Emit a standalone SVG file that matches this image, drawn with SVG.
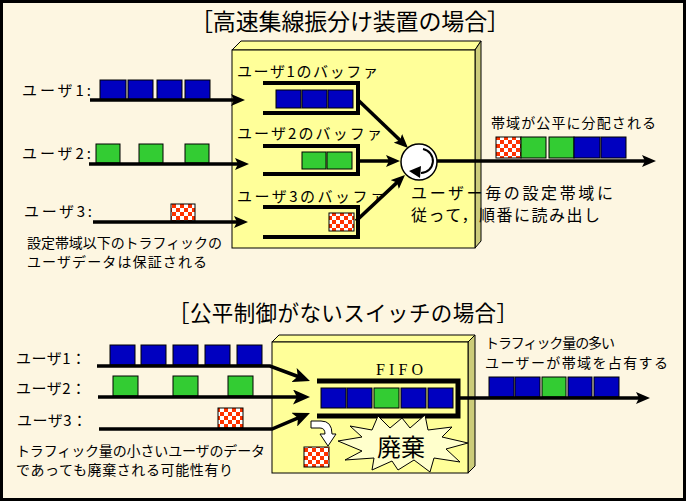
<svg xmlns="http://www.w3.org/2000/svg" width="686" height="501" viewBox="0 0 686 501">
<style>
text{font-family:"Noto Sans CJK JP","Noto Sans",sans-serif;fill:#000}
.blue{fill:#0000C0;stroke:#000;stroke-width:1}
.green{fill:#33CC33;stroke:#000;stroke-width:1}
.chk{fill:url(#checker);stroke:#000;stroke-width:1}
.line{fill:none;stroke:#000;stroke-width:3.5}
.buf{fill:none;stroke:#000;stroke-width:4}
.front{fill:#FFFF99;stroke:#000;stroke-width:1}
.side{fill:#CCCC7A;stroke:#000;stroke-width:1}
</style>
<defs>
<pattern id="checker" patternUnits="userSpaceOnUse" width="8" height="8">
<rect width="8" height="8" fill="#fff"/>
<rect width="4" height="4" fill="#FF3300"/>
<rect x="4" y="4" width="4" height="4" fill="#FF3300"/>
</pattern>
<marker id="ah" markerUnits="userSpaceOnUse" markerWidth="14" markerHeight="12" viewBox="0 0 14 12" refX="8" refY="6" orient="auto"><path d="M0,0 L14,6 L0,12 L3,6 z" fill="#000"/></marker>
<marker id="ahL" markerUnits="userSpaceOnUse" markerWidth="17" markerHeight="15" viewBox="0 0 17 15" refX="10" refY="7.5" orient="auto"><path d="M0,0 L17,7.5 L0,15 L4,7.5 z" fill="#000"/></marker>
</defs>
<rect x="1.5" y="1.5" width="683" height="498" fill="#FDF6E1" stroke="#000" stroke-width="3"/>

<!-- Top section -->
<text x="190" y="30" font-size="23" textLength="320">［高速集線振分け装置の場合］</text>

<g id="device1">
<polygon class="front" points="232,50 241,41 481,41 475,50"/>
<polygon class="side" points="475,50 481,41 481,241 475,248"/>
<rect class="front" x="232" y="50" width="243" height="198"/>
</g>

<g id="buffer1">
<text x="237" y="77" font-size="15" textLength="141">ユーザ1のバッファ</text>
<path class="buf" d="M263,83 L358,83 L358,113 L263,113"/>
<rect class="blue" x="276" y="90" width="25" height="18"/>
<rect class="blue" x="302" y="90" width="25" height="18"/>
<rect class="blue" x="328" y="90" width="25" height="18"/>
</g>
<g id="buffer2">
<text x="237" y="139" font-size="15" textLength="145">ユーザ2のバッファ</text>
<path class="buf" d="M263,146 L358,146 L358,174 L263,174"/>
<rect class="green" x="302" y="152" width="24" height="17"/>
<rect class="green" x="327" y="152" width="25" height="17"/>
</g>
<g id="buffer3">
<text x="237" y="202" font-size="15" textLength="148">ユーザ3のバッファ</text>
<path class="buf" d="M263,207 L358,207 L358,237 L263,237"/>
<rect class="chk" x="329" y="213" width="25" height="18"/>
</g>

<g id="scheduler">
<circle cx="419" cy="162" r="18" fill="#fff" stroke="#000" stroke-width="1.5"/>
<path d="M423,149 A12.1,12.1 0 0 1 421,173" fill="none" stroke="#000" stroke-width="2"/>
<polygon points="409,171 421,166 420,178" fill="#000"/>
</g>

<g id="user1-top">
<text x="22" y="96" font-size="15" textLength="69">ユーザ1:</text>
<rect class="blue" x="100" y="80" width="26" height="20"/>
<rect class="blue" x="128" y="80" width="25" height="20"/>
<rect class="blue" x="157" y="80" width="25" height="20"/>
<rect class="blue" x="185" y="80" width="25" height="20"/>
</g>
<g id="user2-top">
<text x="22" y="159" font-size="15" textLength="69">ユーザ2:</text>
<rect class="green" x="96" y="144" width="24" height="19"/>
<rect class="green" x="139" y="144" width="24" height="19"/>
<rect class="green" x="185" y="144" width="24" height="19"/>
</g>
<g id="user3-top">
<text x="24" y="217" font-size="15" textLength="68">ユーザ3:</text>
<rect class="chk" x="171" y="204" width="24" height="17"/>
</g>

<g id="output-top">
<rect class="chk" x="496" y="137" width="25" height="21"/>
<rect class="green" x="521" y="137" width="25" height="21"/>
<rect class="green" x="549" y="137" width="25" height="21"/>
<rect class="blue" x="574" y="137" width="26" height="21"/>
<rect class="blue" x="601" y="137" width="25" height="21"/>
<text x="491" y="128" font-size="14" textLength="165">帯域が公平に分配される</text>
</g>

<g id="notes-top">
<text x="27" y="248" font-size="14" textLength="195">設定帯域以下のトラフィックの</text>
<text x="27" y="267" font-size="14" textLength="180">ユーザデータは保証される</text>
<text x="411" y="199" font-size="16" textLength="202">ユーザー毎の設定帯域に</text>
<text x="411" y="221" font-size="16" textLength="189">従って，順番に読み出し</text>
</g>

<g id="connectors-top">
<path class="line" d="M90,100 L239,100" marker-end="url(#ah)"/>
<path class="line" d="M89,164 L243,164" marker-end="url(#ah)"/>
<path class="line" d="M93,222 L242,222" marker-end="url(#ah)"/>
<path class="line" d="M358,100 L403.7,143.8" marker-end="url(#ah)" stroke-width="3"/>
<path class="line" d="M358,161 L394,161" marker-end="url(#ah)" stroke-width="3"/>
<path class="line" d="M356,221 L400.6,179.1" marker-end="url(#ah)" stroke-width="3"/>
<path class="line" d="M437,161 L650,161" marker-end="url(#ah)"/>
</g>

<!-- Bottom section -->
<text x="168" y="321" font-size="21.5" textLength="350">［公平制御がないスイッチの場合］</text>

<g id="switch">
<polygon class="front" points="272,342 279,335 475,335 468,342"/>
<polygon class="side" points="468,342 475,335 475,466 468,473"/>
<rect class="front" x="272" y="342" width="196" height="131"/>
</g>

<g id="fifo">
<text x="376" y="375" font-size="16" textLength="47" style="font-family:'Liberation Serif',serif">FIFO</text>
<path d="M317,381 L458,381 L458,416 L317,416" fill="none" stroke="#000" stroke-width="5"/>
<rect class="blue" x="321" y="388" width="25" height="20"/>
<rect class="blue" x="347" y="388" width="25" height="20"/>
<rect class="green" x="374" y="388" width="25" height="20"/>
<rect class="blue" x="401" y="388" width="25" height="20"/>
<rect class="blue" x="428" y="388" width="25" height="20"/>
</g>

<g id="discard">
<path d="M311,421 L321,421 Q332,421 332,434 L336,434 L328,446 L320,434 L325,434 Q325,428 320,428 L311,428 Z" fill="#fff" stroke="#000" stroke-width="1"/>
<rect class="chk" x="304" y="447" width="25" height="20"/>
<polygon points="338,441 362,437 350,426 372,430 378,416 390,428 402,418 410,428 425,415 428,430 452,427 442,437 468,443 446,449 460,462 434,458 430,472 414,460 398,470 392,461 372,470 374,458 345,460 362,451" fill="#FFFFCC" stroke="#000" stroke-width="1"/>
<text x="377" y="456" font-size="24" textLength="48">廃棄</text>
</g>

<g id="user1-bottom">
<text x="16" y="364" font-size="15" textLength="70">ユーザ1：</text>
<rect class="blue" x="110" y="345" width="25" height="20"/>
<rect class="blue" x="141" y="345" width="25" height="20"/>
<rect class="blue" x="173" y="345" width="25" height="20"/>
<rect class="blue" x="205" y="345" width="25" height="20"/>
<rect class="blue" x="237" y="345" width="25" height="20"/>
</g>
<g id="user2-bottom">
<text x="16" y="394" font-size="15" textLength="70">ユーザ2：</text>
<rect class="green" x="113" y="376" width="25" height="20"/>
<rect class="green" x="173" y="376" width="25" height="20"/>
<rect class="green" x="228" y="376" width="25" height="20"/>
</g>
<g id="user3-bottom">
<text x="17" y="426" font-size="15" textLength="70">ユーザ3：</text>
<rect class="chk" x="218" y="408" width="25" height="20"/>
</g>

<g id="output-bottom">
<rect class="blue" x="489" y="377" width="25" height="20"/>
<rect class="blue" x="515" y="377" width="25" height="20"/>
<rect class="green" x="542" y="377" width="24" height="20"/>
<rect class="blue" x="568" y="377" width="24" height="20"/>
<rect class="blue" x="594" y="377" width="25" height="20"/>
<text x="485" y="348" font-size="14" textLength="130">トラフィック量の多い</text>
<text x="485" y="368" font-size="14" textLength="183">ユーザーが帯域を占有する</text>
</g>

<g id="notes-bottom">
<text x="16" y="456" font-size="14" textLength="249">トラフィック量の小さいユーザのデータ</text>
<text x="16" y="475" font-size="14" textLength="217">であっても廃棄される可能性有り</text>
</g>

<g id="connectors-bottom">
<path class="line" d="M97,366 L270,366 L303.4,378.5" marker-end="url(#ahL)"/>
<path class="line" d="M98,397 L303,397" marker-end="url(#ahL)"/>
<path class="line" d="M99,429 L272,429 L303.5,415.7" marker-end="url(#ahL)"/>
<path class="line" d="M458,398 L644,398" marker-end="url(#ah)"/>
</g>
</svg>
